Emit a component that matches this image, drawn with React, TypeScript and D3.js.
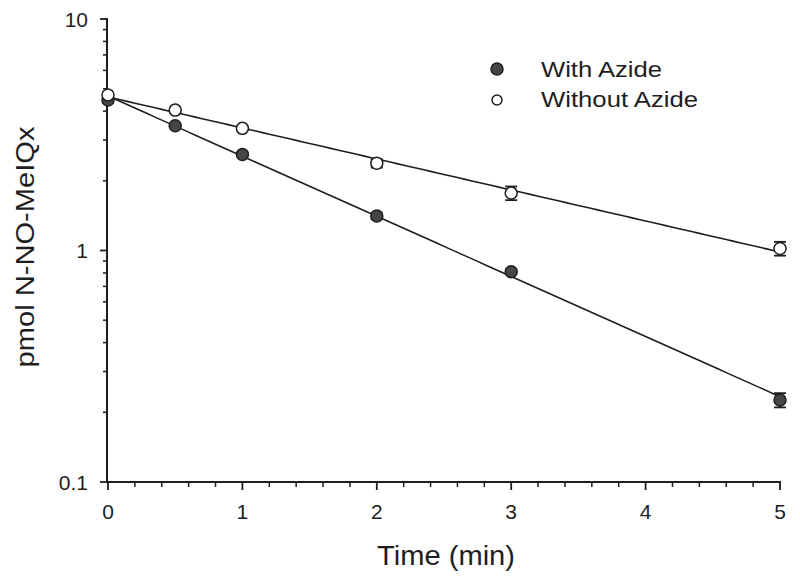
import React from "react";
import * as d3 from "d3";

const times = [0, 0.5, 1, 2, 3, 5];
const withAzide = [4.47, 3.46, 2.6, 1.41, 0.81, 0.226];
const withAzideErr = [0.12, 0.06, 0.05, 0.04, 0.02, 0.016];
const withoutAzide = [4.7, 4.04, 3.37, 2.38, 1.77, 1.02];
const withoutAzideErr = [0.1, 0.05, 0.05, 0.1, 0.12, 0.07];
const xTicks = [0, 1, 2, 3, 4, 5];
const yTicks = [0.1, 1, 10];
const yTickLabels = ["0.1", "1", "10"];
const legendLabels = ["With Azide", "Without Azide"];

const W = 800;
const H = 581;
const FONT = "'Liberation Sans', Arial, sans-serif";
const INK = "#1e1e1e";

// log-linear least squares fit
function fitExp(xs: number[], ys: number[]) {
  const ly = ys.map(v => Math.log(v));
  const mx = d3.mean(xs) as number;
  const my = d3.mean(ly) as number;
  let num = 0;
  let den = 0;
  xs.forEach((x, i) => {
    num += (x - mx) * (ly[i] - my);
    den += (x - mx) * (x - mx);
  });
  const b = num / den;
  const a = my - b * mx;
  return (x: number) => Math.exp(a + b * x);
}

const App = () => {
  const x = d3.scaleLinear().domain([0, 5]).range([108, 780]);
  const y = d3.scaleLog().domain([0.1, 10]).range([482, 19]);

  const minorX = d3.range(0, 5.001, 0.2).filter(v => Math.abs(v - Math.round(v)) > 1e-6);
  const minorY: number[] = [];
  [0.1, 1].forEach(d => {
    for (let k = 2; k <= 9; k++) minorY.push(d * k);
  });

  const series = [
    { vals: withAzide, err: withAzideErr, fill: "#464646", lr: 6 },
    { vals: withoutAzide, err: withoutAzideErr, fill: "#ffffff", lr: 5 },
  ];

  return (
    <svg width={W} height={H} style={{ position: "absolute", left: 0, top: 0, background: "#fff" }}>
      <rect width={W} height={H} fill="#fff" />
      {/* fit lines */}
      {series.map((s, i) => {
        const f = fitExp(times, s.vals);
        const pts = d3.range(0, 5.001, 0.05);
        const path = d3
          .line<number>()
          .x(t => x(t))
          .y(t => y(f(t)))(pts);
        return <path key={"l" + i} d={path || ""} fill="none" stroke={INK} strokeWidth={1.6} />;
      })}

      {/* axes */}
      <line x1={107} x2={107} y1={18} y2={482} stroke={INK} strokeWidth={2} />
      <line x1={106} x2={781} y1={482} y2={482} stroke={INK} strokeWidth={2} />
      {xTicks.map(t => (
        <g key={"xt" + t}>
          <line x1={x(t)} x2={x(t)} y1={482} y2={490} stroke={INK} strokeWidth={1.8} />
          <text x={x(t)} y={519} textAnchor="middle" fontFamily={FONT} fontSize={21} fill={INK}>
            {t}
          </text>
        </g>
      ))}
      {minorX.map(t => (
        <line key={"xm" + t} x1={x(t)} x2={x(t)} y1={482} y2={487} stroke={INK} strokeWidth={1.5} />
      ))}
      {yTicks.map((t, i) => (
        <g key={"yt" + t}>
          <line x1={100} x2={107} y1={y(t)} y2={y(t)} stroke={INK} strokeWidth={1.8} />
          <text x={88} y={y(t) + 7.5} textAnchor="end" fontFamily={FONT} fontSize={21} fill={INK}>
            {yTickLabels[i]}
          </text>
        </g>
      ))}
      {minorY.map(t => (
        <line key={"ym" + t} x1={103} x2={107} y1={y(t)} y2={y(t)} stroke={INK} strokeWidth={1.5} />
      ))}

      {/* error bars and points */}
      {series.map((s, si) => (
        <g key={"s" + si}>
          {s.vals.map((v, i) => {
            const cx = x(times[i]);
            const top = y(v + s.err[i]);
            const bot = y(v - s.err[i]);
            return (
              <g key={i}>
                <line x1={cx} x2={cx} y1={top} y2={bot} stroke={INK} strokeWidth={1.5} />
                <line x1={cx - 6} x2={cx + 6} y1={top} y2={top} stroke={INK} strokeWidth={1.8} />
                <line x1={cx - 6} x2={cx + 6} y1={bot} y2={bot} stroke={INK} strokeWidth={1.8} />
                <circle cx={cx} cy={y(v)} r={6} fill={s.fill} stroke={INK} strokeWidth={1.5} />
              </g>
            );
          })}
        </g>
      ))}

      {/* legend */}
      {legendLabels.map((lab, i) => (
        <g key={"lg" + i}>
          <circle
            cx={497}
            cy={69 + i * 31}
            r={series[i].lr}
            fill={series[i].fill}
            stroke={INK}
            strokeWidth={1.5}
          />
          <text
            x={541}
            y={77 + i * 30}
            fontFamily={FONT}
            fontSize={21.5}
            fill={INK}
            textLength={i === 0 ? 121 : 157}
            lengthAdjust="spacingAndGlyphs"
          >
            {lab}
          </text>
        </g>
      ))}

      {/* axis titles */}
      <text
        x={446}
        y={565}
        textAnchor="middle"
        fontFamily={FONT}
        fontSize={27}
        fill={INK}
        textLength={138}
        lengthAdjust="spacingAndGlyphs"
      >
        Time (min)
      </text>
      <text
        transform="translate(34,247) rotate(-90)"
        textAnchor="middle"
        fontFamily={FONT}
        fontSize={25}
        fill={INK}
        textLength={241}
        lengthAdjust="spacingAndGlyphs"
      >
        pmol N-NO-MeIQx
      </text>
    </svg>
  );
};

export default App;
